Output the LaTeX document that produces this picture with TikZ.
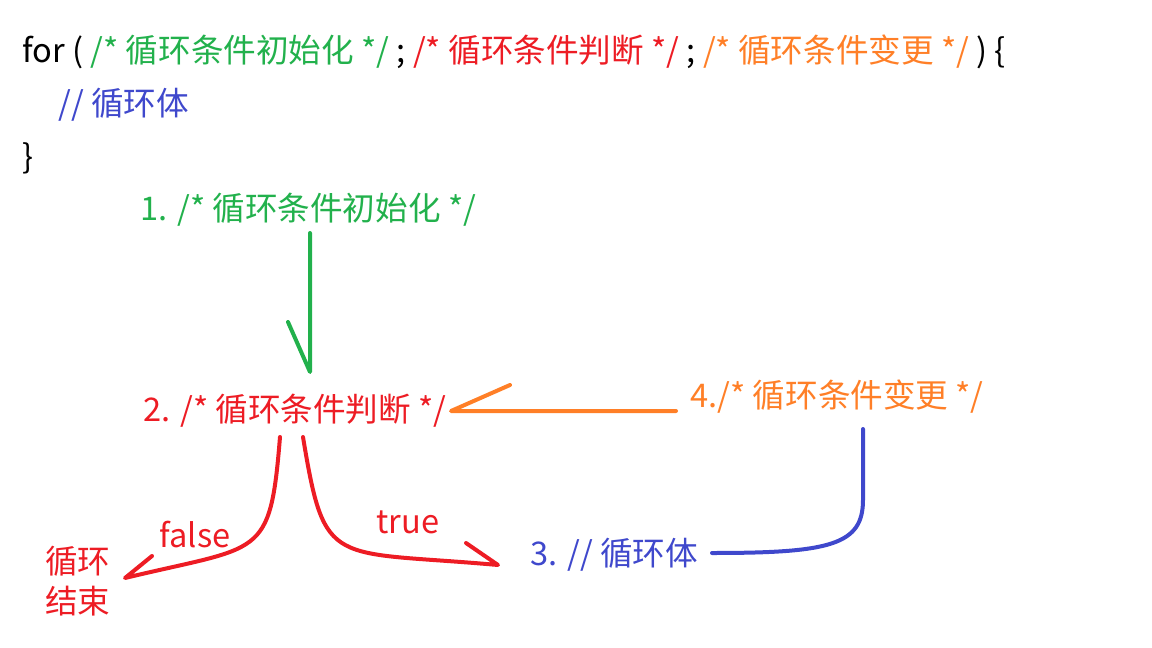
\documentclass[tikz,border=0pt]{standalone}
\usepackage{fontspec}
\setmainfont{Noto Sans CJK SC}
\definecolor{cg}{RGB}{34,177,76}
\definecolor{cr}{RGB}{237,28,36}
\definecolor{co}{RGB}{255,127,39}
\definecolor{cb}{RGB}{63,72,204}
\begin{document}
\begin{tikzpicture}[x=0.5pt,y=-0.5pt,
  t/.style={inner sep=0pt,font=\fontsize{16.3}{18}\selectfont},
  stroke/.style={line width=2pt,line cap=round,line join=round}]
\useasboundingbox (0,0) rectangle (1152,648);
\node[t,anchor=west] (l1) at (22,52) {for ( \textcolor{cg}{/* 循环条件初始化 */} ; \textcolor{cr}{/* 循环条件判断 */} ; \textcolor{co}{/* 循环条件变更 */} ) \{};
\node[t,anchor=west,text=cb] (l2) at (58,105) {// 循环体};
\node[t,anchor=west] (l3) at (22,158) {\}};
\node[t,anchor=west,text=cg] (n1) at (140,210) {1. /* 循环条件初始化 */};
\node[t,anchor=west,text=cr] (n2) at (143,411) {2. /* 循环条件判断 */};
\node[t,anchor=west,text=co] (n4) at (690,397) {4./* 循环条件变更 */};
\node[t,anchor=west,text=cb] (n3) at (530,555) {3. // 循环体};
\node[t,text=cr] (f) at (195,535) {false};
\node[t,text=cr] (tr) at (408,522) {true};
\node[t,text=cr,align=center] (end) at (78,581) {循环\\[2pt]结束};
\coordinate (g1) at (310,233); \coordinate (g2) at (310,372); \coordinate (g3) at (288,322);
\draw[stroke,cg] (g1) -- (g2) -- (g3);
\coordinate (o1) at (676,411); \coordinate (o2) at (451,411); \coordinate (o3) at (510,385);
\draw[stroke,co] (o1) -- (o2) -- (o3);
\coordinate (b1) at (863,429); \coordinate (b2) at (712,553);
\draw[stroke,cb] (b1) -- (863,500) .. controls (863,545) and (830,553) .. (b2);
\coordinate (r1) at (280,437); \coordinate (r2) at (125,578); \coordinate (r3) at (152,556);
\draw[stroke,cr] (r1) .. controls (270,560) and (262,545) .. (r2) -- (r3);
\coordinate (s1) at (303,437); \coordinate (s2) at (498,565); \coordinate (s3) at (466,543);
\draw[stroke,cr] (s1) .. controls (325,570) and (330,550) .. (s2) -- (s3);
\end{tikzpicture}
\end{document}
